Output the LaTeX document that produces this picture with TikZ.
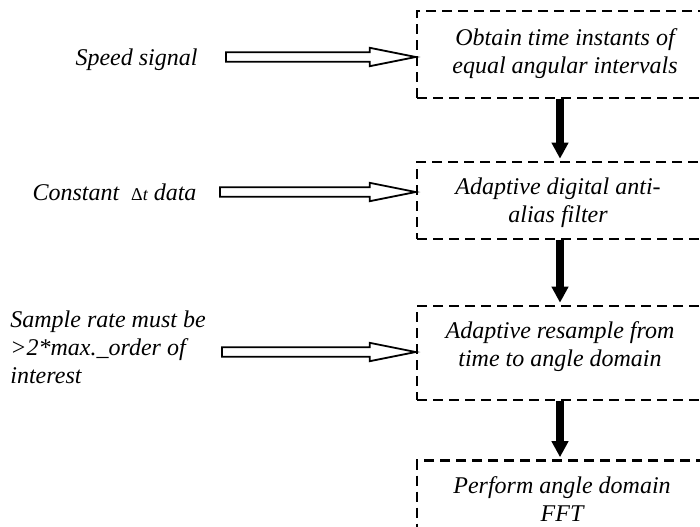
\documentclass[tikz,border=0pt]{standalone}
\usepackage{fontspec}
\setmainfont{Liberation Serif}
\usetikzlibrary{arrows.meta,calc}
\tikzset{
 box/.style={draw, line width=1.3pt, dash pattern=on 5pt off 3pt, minimum width=143pt, inner sep=0pt},
 boxtext/.style={font=\itshape\fontsize{12}{14}\selectfont, align=center, inner sep=0pt},
 lbl/.style={font=\itshape\fontsize{12}{14}\selectfont, align=left, inner sep=0pt},
 harr/.style={draw, line width=0.9pt, fill=white},
 varr/.style={line width=4pt, -{Triangle[width=8pt,length=8pt]}, shorten >=1pt},
}
\newcommand\harrow[2]{\path[harr] let \p1=(#1), \p2=(#2) in (\x1,\y1+2.35pt) -- (\x2-23pt,\y1+2.35pt) -- (\x2-23pt,\y1+4.6pt) -- (\x2,\y1) -- (\x2-23pt,\y1-4.6pt) -- (\x2-23pt,\y1-2.35pt) -- (\x1,\y1-2.35pt) -- cycle;}
\begin{document}
\begin{tikzpicture}[x=0.5pt,y=-0.5pt]
\useasboundingbox (0,0) rectangle (700,526);
\clip (0,0) rectangle (700,526);
% boxes
\node[box, minimum height=43.5pt] (b1) at (560,54.5) {};
\node[box, minimum height=38.5pt] (b2) at (560,200.5) {};
\node[box, minimum height=47pt] (b3) at (560,353) {};
\node[box, minimum height=42.5pt] (b4) at (560,503) {};
% box texts
\node[boxtext] (t1) at (565,54) {Obtain time instants of\\equal angular intervals};
\node[boxtext] (t2) at (558,202.5) {Adaptive digital anti-\\alias filter};
\node[boxtext] (t3) at (560,346.5) {Adaptive resample from\\time to angle domain};
\node[boxtext] (t4) at (562,499.5) {Perform angle domain\\FFT};
% left labels
\node[lbl] (l1) at (136.5,60) {Speed signal};
\node[lbl] (l2) at (114.5,192) {Constant \ {\upshape\fontsize{9}{10}\selectfont Δ\itshape t} data};
\node[lbl, anchor=west] (l3) at (10,347) {Sample rate must be\\>2*max.\_order of\\interest};
% hollow arrows
\coordinate (s1) at (226,57);
\coordinate (s2) at (220,192);
\coordinate (s3) at (222,352);
\harrow{s1}{b1.west |- s1}
\harrow{s2}{b2.west |- s2}
\harrow{s3}{b3.west |- s3}
% down arrows
\draw[varr] (b1.south) -- (b2.north);
\draw[varr] (b2.south) -- (b3.north);
\draw[varr] (b3.south) -- (b4.north);
\end{tikzpicture}
\end{document}
